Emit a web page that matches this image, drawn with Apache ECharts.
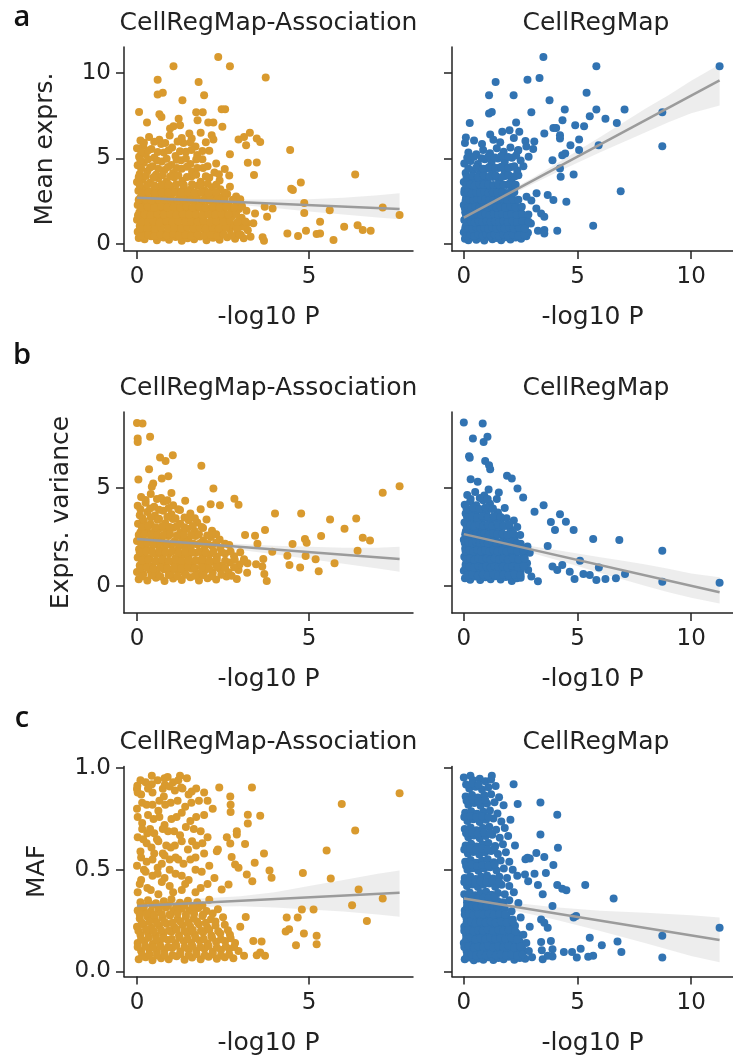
<!DOCTYPE html>
<html><head><meta charset="utf-8">
<script src="https://cdn.jsdelivr.net/npm/echarts@6/dist/echarts.min.js"></script>
<style>html,body{margin:0;padding:0;background:#fff;}#chart{width:733px;height:1057px;}</style>
</head><body><div id="chart"></div>
<script>
const panelTitles = ['CellRegMap-Association', 'CellRegMap'];
const rowLabels = ['Mean exprs.', 'Exprs. variance', 'MAF'];
const panelLetters = ['a', 'b', 'c'];
const xAxisName = '-log10 P';
const leftXTicks = [0, 5];
const rightXTicks = [0, 5, 10];
const meanTicks = [0, 5, 10];
const varTicks = [0, 5];
const mafTicks = [0, 0.5, 1.0];

// a-left: CellRegMap-Association vs mean expression
const assocMean = [
[2.36,10.93],[1.06,10.39],[2.70,10.39],[3.74,9.73],[0.60,9.61],[1.79,9.47],[0.75,8.85],[0.60,8.74],[1.95,8.70],[1.32,8.40],[0.06,7.72],[0.65,7.59],[0.71,7.43],[1.72,7.70],[1.91,7.70],[2.46,7.88],[2.56,7.88],[0.29,7.10],[1.21,7.32],[1.76,7.24],[2.07,7.10],[2.22,7.10],[2.48,6.85],[0.96,6.75],[1.06,6.89],[1.25,6.95],[1.52,6.46],[1.59,6.17],[2.17,6.36],[2.22,6.11],[2.95,6.11],[3.11,6.26],[3.28,6.50],[3.48,6.17],[3.58,5.97],[3.17,5.78],[4.45,5.49],[2.70,5.25],[3.22,4.75],[3.48,4.77],[3.40,4.03],[6.34,4.07],[4.48,3.23],[4.76,3.60],[4.53,3.15],[4.86,2.39],[3.71,2.18],[3.94,2.08],[3.78,1.60],[4.86,1.81],[5.60,1.98],[5.32,1.30],[7.14,2.14],[7.63,1.69],[6.02,1.01],[6.41,1.09],[6.56,0.82],[6.79,0.78],[4.37,0.62],[4.68,0.47],[4.91,0.78],[5.22,0.58],[5.32,0.62],[5.71,0.23],[3.65,0.39],[3.69,0.19],[3.43,1.79],[3.38,1.21],[3.19,1.21],[3.04,1.54],[3.02,0.53],
[0.05,0.35],[0.22,0.28],[0.41,0.45],[0.58,0.22],[0.77,0.38],[0.93,0.25],[1.12,0.41],[1.30,0.19],[1.47,0.33],[1.66,0.27],[1.83,0.44],[2.02,0.22],[2.21,0.36],[2.40,0.25],[2.62,0.40],[2.85,0.30],[3.10,0.34],[3.30,0.42],
[0.02,0.72],[0.15,0.60],[0.33,0.81],[0.50,0.66],[0.68,0.88],[0.85,0.62],[1.02,0.79],[1.20,0.65],[1.38,0.86],[1.55,0.58],[1.73,0.74],[1.92,0.90],[2.10,0.63],[2.28,0.81],[2.48,0.69],[2.70,0.85],[2.92,0.66],[3.22,0.80],
[0.08,1.05],[0.25,1.18],[0.44,0.98],[0.60,1.12],[0.79,1.25],[0.97,1.02],[1.15,1.16],[1.33,1.00],[1.51,1.21],[1.70,1.08],[1.88,1.26],[2.05,1.05],[2.25,1.19],[2.44,1.01],[2.63,1.22],[2.82,1.10],[3.05,1.02],
[0.00,1.42],[0.18,1.55],[0.36,1.38],[0.55,1.50],[0.72,1.62],[0.90,1.40],[1.08,1.57],[1.26,1.45],[1.44,1.66],[1.62,1.41],[1.80,1.53],[1.98,1.68],[2.17,1.44],[2.36,1.59],[2.55,1.47],[2.76,1.62],[2.98,1.40],
[0.07,1.85],[0.26,1.97],[0.45,1.80],[0.63,2.02],[0.81,1.88],[1.00,2.06],[1.18,1.83],[1.37,1.99],[1.55,1.86],[1.74,2.08],[1.93,1.92],[2.12,2.04],[2.31,1.84],[2.52,2.00],[2.74,1.90],[2.96,2.05],[3.18,1.95],
[0.02,2.28],[0.20,2.40],[0.39,2.22],[0.58,2.36],[0.76,2.50],[0.94,2.26],[1.13,2.43],[1.31,2.30],[1.50,2.52],[1.68,2.25],[1.87,2.39],[2.06,2.55],[2.27,2.31],[2.46,2.46],[2.66,2.28],[2.90,2.42],
[0.10,2.70],[0.28,2.82],[0.47,2.66],[0.66,2.88],[0.84,2.72],[1.03,2.95],[1.22,2.68],[1.41,2.84],[1.60,2.74],[1.79,2.96],[1.98,2.70],[2.18,2.86],[2.40,2.75],[2.62,2.92],[2.88,2.78],
[0.04,3.12],[0.22,3.25],[0.41,3.08],[0.60,3.30],[0.79,3.15],[0.98,3.36],[1.17,3.10],[1.36,3.28],[1.56,3.18],[1.76,3.40],[1.96,3.14],[2.18,3.32],[2.42,3.20],[2.70,3.35],
[0.00,3.62],[0.16,3.75],[0.38,3.58],[0.62,3.85],[0.86,3.66],[1.08,3.90],[1.32,3.70],[1.58,3.95],[1.85,3.64],[2.10,3.88],[2.40,3.72],[2.68,4.00],
[0.08,4.10],[0.30,4.25],[0.55,4.05],[0.80,4.32],[1.05,4.15],[1.30,4.40],[1.60,4.22],[1.92,4.45],[2.25,4.18],[2.55,4.38],
[0.02,4.60],[0.20,4.75],[0.45,4.55],[0.72,4.82],[1.00,4.62],[1.28,4.90],[1.55,4.68],[1.90,4.95],[2.30,4.70],
[0.06,5.10],[0.25,5.25],[0.50,5.05],[0.78,5.35],[1.12,5.15],[1.42,5.40],[1.75,5.20],[2.10,5.45],
[0.00,5.60],[0.18,5.75],[0.42,5.55],[0.70,5.85],[1.02,5.65],[1.35,5.90],[1.70,5.70],[2.00,5.95],
[0.10,6.05],[0.35,6.25],[0.65,6.10],[0.95,6.35],[1.30,6.20],[1.85,6.50]
];
const assocMeanFill = [
[0.12,0.48],[0.32,0.55],[0.50,0.47],[0.68,0.56],[0.86,0.50],[1.05,0.58],[1.22,0.49],[1.40,0.55],[1.58,0.46],[1.76,0.57],[1.95,0.51],[2.14,0.56],[2.33,0.47],[2.52,0.55],[2.74,0.50],[2.98,0.57],
[0.10,0.90],[0.30,0.93],[0.52,0.88],[0.70,0.97],[0.90,0.92],[1.08,0.95],[1.28,0.90],[1.46,0.98],[1.64,0.92],[1.82,0.96],[2.00,0.89],[2.18,0.97],[2.38,0.92],[2.58,0.98],[2.90,0.94],[3.15,1.00],
[0.14,1.30],[0.32,1.28],[0.48,1.33],[0.66,1.27],[0.85,1.34],[1.03,1.29],[1.20,1.33],[1.40,1.28],[1.58,1.32],[1.76,1.30],[1.94,1.34],[2.12,1.27],[2.30,1.33],[2.50,1.29],[2.70,1.34],[2.92,1.28],[3.15,1.32],
[0.03,1.68],[0.22,1.74],[0.40,1.70],[0.59,1.76],[0.78,1.71],[0.97,1.75],[1.15,1.70],[1.33,1.76],[1.52,1.72],[1.71,1.74],[1.90,1.69],[2.08,1.76],[2.27,1.71],[2.46,1.75],[2.66,1.72],[2.88,1.76],
[0.12,2.12],[0.31,2.18],[0.50,2.14],[0.70,2.20],[0.88,2.13],[1.07,2.18],[1.25,2.15],[1.44,2.20],[1.62,2.13],[1.81,2.18],[2.00,2.14],[2.20,2.20],[2.40,2.15],[2.60,2.18],[2.82,2.13],[3.05,2.20],
[0.05,2.58],[0.25,2.60],[0.42,2.55],[0.62,2.62],[0.80,2.58],[0.99,2.63],[1.18,2.56],[1.36,2.61],[1.55,2.58],[1.74,2.63],[1.93,2.57],[2.12,2.62],[2.33,2.58],[2.55,2.64],[2.78,2.58],[3.00,2.62],
[0.14,2.98],[0.33,3.02],[0.52,2.97],[0.72,3.03],[0.90,2.99],[1.10,3.04],[1.29,2.98],[1.48,3.03],[1.68,2.99],[1.88,3.04],[2.08,2.98],[2.30,3.02],[2.55,3.00],
[0.08,3.45],[0.30,3.48],[0.50,3.44],[0.72,3.50],[0.92,3.46],[1.14,3.50],[1.36,3.45],[1.60,3.50],[1.85,3.46],[2.05,3.52],[2.30,3.46],
[0.05,3.92],[0.26,3.98],[0.48,3.90],[0.74,4.02],[0.96,3.94],[1.20,4.00],[1.45,3.92],[1.72,4.05],[2.00,3.96],[2.38,4.08],
[0.12,4.42],[0.38,4.48],[0.62,4.40],[0.90,4.50],[1.16,4.44],[1.45,4.52],[1.75,4.44],[2.05,4.55],
[0.10,4.90],[0.32,4.95],[0.58,4.88],[0.86,4.98],[1.15,4.92],[1.42,5.00],[1.72,4.94],
[0.12,5.40],[0.32,5.46],[0.60,5.38],[0.92,5.48],[1.25,5.42],[1.58,5.50],[1.90,5.44],
[0.20,5.92],[0.50,5.98],[0.82,5.90],[1.18,6.00],[1.55,5.94]
];
const assocMeanFit = [[0, 2.70], [7.63, 2.04]];
const assocMeanBand = [[0,2.55,2.85],[1,2.52,2.72],[2,2.43,2.63],[3,2.28,2.60],[4,2.10,2.60],[5,1.90,2.62],[6,1.72,2.70],[7,1.55,2.85],[7.63,1.45,2.96]];

// a-right: CellRegMap vs mean expression
const crmMean = [
[3.50,10.93],[5.83,10.39],[11.25,10.39],[1.40,9.47],[2.80,9.61],[3.33,9.71],[1.11,8.70],[2.19,8.70],[5.40,8.85],[3.77,8.40],[1.11,7.63],[1.23,7.72],[0.26,7.08],[2.30,7.10],[2.97,7.70],[4.44,7.86],[5.54,7.47],[5.83,7.86],[6.23,7.32],[6.73,7.08],[7.07,7.86],[8.73,7.70],[8.73,5.72],[0.09,6.23],[1.16,6.40],[1.69,6.56],[2.01,6.65],[2.44,6.56],[3.54,6.46],[3.94,6.79],[4.06,6.79],[4.23,6.36],[4.23,6.17],[4.90,6.95],[5.29,6.89],[5.07,6.11],[5.93,5.78],[4.34,7.24],[2.71,6.03],[2.40,5.49],[4.69,5.78],[5.07,5.49],[4.33,5.19],[4.46,5.29],[3.90,4.90],[4.23,4.42],[4.26,3.93],[4.83,4.07],[6.90,3.09],[5.69,1.07],[4.51,2.47],[4.11,0.78],[3.69,2.86],[3.94,2.57],[3.20,2.96],[2.76,2.76],[2.97,2.55],[3.19,2.08],[3.40,1.79],[3.54,1.60],[3.26,0.78],[3.54,0.82],[3.54,0.62],
[0.05,0.30],[0.20,0.22],[0.38,0.40],[0.55,0.25],[0.72,0.36],[0.90,0.20],[1.08,0.42],[1.26,0.28],[1.45,0.35],[1.64,0.22],[1.84,0.40],[2.05,0.26],[2.28,0.38],[2.52,0.30],[2.75,0.45],
[0.00,0.68],[0.14,0.55],[0.30,0.78],[0.47,0.62],[0.64,0.84],[0.81,0.58],[0.98,0.75],[1.16,0.63],[1.34,0.86],[1.52,0.60],[1.70,0.77],[1.90,0.65],[2.10,0.83],[2.32,0.60],[2.55,0.76],[2.82,0.66],
[0.08,1.02],[0.24,1.15],[0.41,0.98],[0.58,1.20],[0.75,1.05],[0.92,1.22],[1.10,1.00],[1.28,1.14],[1.46,1.02],[1.64,1.25],[1.83,1.08],[2.02,1.20],[2.22,1.00],[2.45,1.16],[2.70,1.05],[2.95,1.20],
[0.02,1.40],[0.17,1.55],[0.34,1.38],[0.51,1.60],[0.68,1.44],[0.85,1.62],[1.03,1.40],[1.21,1.56],[1.39,1.45],[1.58,1.66],[1.77,1.42],[1.96,1.58],[2.16,1.46],[2.38,1.64],[2.62,1.50],
[0.06,1.85],[0.22,1.98],[0.39,1.80],[0.56,2.04],[0.73,1.88],[0.90,2.06],[1.08,1.84],[1.26,2.00],[1.45,1.90],[1.64,2.10],[1.84,1.86],[2.04,2.02],[2.26,1.92],[2.50,2.08],
[0.00,2.28],[0.15,2.42],[0.32,2.25],[0.50,2.46],[0.67,2.30],[0.85,2.52],[1.03,2.32],[1.22,2.48],[1.41,2.28],[1.60,2.55],[1.80,2.36],[2.02,2.50],[2.25,2.34],
[0.10,2.72],[0.27,2.86],[0.45,2.70],[0.63,2.92],[0.81,2.75],[1.00,2.96],[1.19,2.72],[1.38,2.90],[1.58,2.78],[1.80,2.98],[2.05,2.80],
[0.03,3.15],[0.20,3.30],[0.38,3.12],[0.58,3.35],[0.78,3.18],[0.98,3.40],[1.18,3.16],[1.40,3.36],[1.62,3.22],[1.88,3.45],[2.12,3.25],
[0.00,3.62],[0.25,3.78],[0.50,3.60],[0.75,3.85],[1.02,3.68],[1.28,3.92],[1.55,3.72],[1.82,3.98],[2.10,3.75],[2.40,4.02],
[0.08,4.15],[0.40,4.30],[0.70,4.12],[0.98,4.40],[1.25,4.20],[1.52,4.45],[1.80,4.25],[2.08,4.50],[2.35,4.30],[2.62,4.55],
[0.02,4.70],[0.30,4.85],[0.62,4.68],[0.92,4.95],[1.22,4.75],[1.50,5.00],[1.80,4.80],[2.12,5.05],[2.50,4.88],[2.85,5.10],
[0.20,5.35],[0.55,5.25],[0.85,5.50],[1.15,5.30],[1.45,5.60],[1.75,5.40],[2.05,5.65],[2.38,5.45],[2.75,5.70],[3.05,5.55],
[0.05,5.90],[0.45,6.05],[0.80,5.85],[1.30,6.10],[1.60,5.95],[2.20,6.20],[3.10,6.00]
];
const crmMeanFill = [
[0.12,0.48],[0.30,0.55],[0.47,0.47],[0.64,0.56],[0.82,0.50],[1.00,0.58],[1.17,0.49],[1.35,0.55],[1.54,0.46],[1.73,0.57],[1.94,0.51],[2.16,0.56],[2.40,0.48],[2.65,0.55],
[0.06,0.88],[0.22,0.93],[0.39,0.87],[0.56,0.96],[0.73,0.91],[0.90,0.95],[1.07,0.89],[1.25,0.97],[1.43,0.92],[1.61,0.96],[1.80,0.90],[2.00,0.97],[2.20,0.92],[2.42,0.96],[2.68,0.90],
[0.14,1.28],[0.31,1.32],[0.48,1.27],[0.66,1.33],[0.83,1.29],[1.01,1.34],[1.19,1.28],[1.37,1.32],[1.55,1.29],[1.74,1.34],[1.93,1.28],[2.13,1.33],[2.34,1.29],[2.58,1.34],[2.85,1.30],
[0.10,1.68],[0.27,1.74],[0.44,1.70],[0.61,1.76],[0.78,1.70],[0.96,1.75],[1.14,1.70],[1.32,1.76],[1.51,1.72],[1.70,1.75],[1.90,1.69],[2.10,1.76],[2.32,1.71],[2.56,1.75],[2.84,1.72],
[0.04,2.12],[0.18,2.18],[0.35,2.14],[0.52,2.20],[0.69,2.13],[0.87,2.18],[1.05,2.15],[1.24,2.20],[1.43,2.13],[1.62,2.18],[1.82,2.14],[2.04,2.20],[2.28,2.15],[2.55,2.18],
[0.08,2.55],[0.24,2.60],[0.41,2.57],[0.58,2.63],[0.76,2.58],[0.94,2.62],[1.12,2.56],[1.31,2.61],[1.50,2.58],[1.70,2.63],[1.92,2.57],[2.15,2.62],[2.40,2.58],
[0.02,3.00],[0.18,3.02],[0.35,2.97],[0.54,3.03],[0.72,2.99],[0.90,3.04],[1.09,2.98],[1.28,3.03],[1.48,2.99],[1.70,3.04],[1.94,2.98],[2.22,3.02],
[0.10,3.45],[0.30,3.48],[0.48,3.44],[0.68,3.50],[0.88,3.46],[1.08,3.50],[1.30,3.45],[1.52,3.50],[1.76,3.46],[2.00,3.52],[2.28,3.46],
[0.12,3.92],[0.38,3.98],[0.62,3.90],[0.88,4.02],[1.14,3.94],[1.40,4.00],[1.68,3.92],[1.96,4.05],[2.25,3.96],
[0.20,4.42],[0.55,4.48],[0.84,4.40],[1.12,4.50],[1.38,4.44],[1.65,4.52],[1.95,4.44],[2.22,4.55],
[0.15,5.05],[0.45,5.10],[0.78,5.02],[1.08,5.12],[1.36,5.06],[1.65,5.15],[1.95,5.08],[2.30,5.18]
];
const crmMeanFit = [[0, 1.54], [11.25, 9.57]];
const crmMeanBand = [[0,1.32,1.76],[1,2.07,2.43],[2,2.81,3.11],[3,3.49,3.85],[4,4.13,4.63],[5,4.75,5.45],[6,5.36,6.26],[7,5.95,7.09],[8,6.53,7.93],[9,7.12,8.70],[10,7.65,9.55],[11.25,8.10,10.50]];

// b-left: CellRegMap-Association vs expression variance
const assocVar = [
[0.00,8.33],[0.16,8.30],[0.02,7.53],[0.02,7.36],[0.38,7.62],[0.67,6.56],[0.83,6.39],[1.04,6.68],[0.91,5.61],[0.72,5.49],[1.87,6.14],[0.35,5.97],[0.04,5.44],[0.47,5.24],[0.43,5.07],[2.22,4.98],[7.14,4.76],[7.63,5.10],[2.83,4.46],[2.95,4.15],[2.41,4.13],[2.14,4.18],[4.01,3.71],[4.77,3.71],[5.61,3.40],[6.37,3.45],[3.72,2.86],[6.03,2.93],[5.35,2.55],[6.56,2.47],[6.77,2.33],[4.88,2.40],[4.93,2.21],[4.52,2.14],[6.41,1.80],[3.43,2.57],[3.50,2.16],[3.14,2.60],[3.93,1.75],[4.37,1.55],[4.90,1.53],[5.19,1.36],[5.74,1.16],[4.43,1.07],[4.74,0.95],[5.28,0.75],[3.67,1.38],[3.64,0.99],[3.70,0.61],[3.77,0.26],[3.46,1.11],[3.11,1.36],[3.21,1.16],
[0.05,0.35],[0.30,0.28],[0.55,0.42],[0.80,0.25],[1.05,0.38],[1.30,0.30],[1.55,0.45],[1.80,0.28],[2.05,0.40],[2.30,0.33],[2.60,0.48],[2.90,0.36],
[0.00,0.72],[0.18,0.60],[0.38,0.80],[0.58,0.65],[0.78,0.86],[0.98,0.62],[1.18,0.78],[1.38,0.66],[1.58,0.88],[1.78,0.64],[1.98,0.80],[2.20,0.68],[2.42,0.85],[2.66,0.70],[2.95,0.82],[3.20,0.68],
[0.08,1.05],[0.26,1.18],[0.45,1.00],[0.64,1.22],[0.83,1.06],[1.02,1.25],[1.21,1.02],[1.40,1.18],[1.60,1.05],[1.80,1.28],[2.00,1.08],[2.22,1.22],[2.45,1.04],[2.70,1.20],[2.98,1.10],
[0.02,1.45],[0.18,1.58],[0.36,1.40],[0.55,1.62],[0.74,1.46],[0.93,1.66],[1.12,1.42],[1.31,1.58],[1.50,1.48],[1.70,1.68],[1.90,1.44],[2.10,1.60],[2.32,1.50],[2.56,1.66],[2.82,1.52],
[0.06,1.88],[0.24,2.02],[0.42,1.85],[0.61,2.08],[0.80,1.90],[0.99,2.10],[1.18,1.86],[1.37,2.04],[1.56,1.92],[1.76,2.12],[1.96,1.88],[2.18,2.06],[2.42,1.94],[2.68,2.10],
[0.00,2.30],[0.16,2.45],[0.34,2.28],[0.53,2.50],[0.72,2.34],[0.91,2.55],[1.10,2.30],[1.30,2.48],[1.50,2.36],[1.70,2.56],[1.92,2.32],[2.15,2.50],[2.40,2.38],
[0.10,2.75],[0.28,2.90],[0.47,2.72],[0.66,2.95],[0.86,2.78],[1.06,2.98],[1.26,2.74],[1.46,2.92],[1.68,2.80],[1.92,2.96],[2.18,2.82],
[0.03,3.18],[0.20,3.32],[0.40,3.15],[0.60,3.38],[0.82,3.20],[1.04,3.42],[1.26,3.18],[1.50,3.36],[1.75,3.24],[2.02,3.40],
[0.08,3.62],[0.30,3.78],[0.52,3.60],[0.76,3.85],[1.00,3.66],[1.25,3.88],[1.55,3.70],[1.85,3.92],
[0.02,4.10],[0.25,4.25],[0.50,4.05],[0.78,4.32],[1.05,4.12],[1.40,4.35],
[0.12,4.55],[0.40,4.70],[0.70,4.50],[1.00,4.75]
];
const assocVarFill = [
[0.15,0.50],[0.42,0.55],[0.68,0.48],[0.92,0.56],[1.18,0.50],[1.42,0.58],[1.68,0.52],[1.92,0.56],[2.18,0.50],[2.45,0.58],[2.75,0.52],
[0.10,0.90],[0.28,0.94],[0.48,0.88],[0.68,0.96],[0.88,0.92],[1.08,0.95],[1.28,0.89],[1.48,0.97],[1.68,0.92],[1.88,0.96],[2.10,0.90],[2.32,0.97],[2.56,0.92],[2.82,0.96],
[0.14,1.30],[0.34,1.33],[0.54,1.28],[0.73,1.34],[0.92,1.29],[1.12,1.33],[1.30,1.28],[1.50,1.32],[1.70,1.30],[1.90,1.34],[2.10,1.28],[2.32,1.33],[2.56,1.29],[2.84,1.34],[3.10,1.28],
[0.08,1.72],[0.27,1.76],[0.46,1.70],[0.64,1.77],[0.83,1.72],[1.02,1.76],[1.21,1.70],[1.40,1.77],[1.60,1.72],[1.80,1.76],[2.00,1.71],[2.22,1.77],[2.46,1.72],[2.72,1.76],[3.00,1.72],
[0.12,2.16],[0.30,2.20],[0.48,2.14],[0.67,2.21],[0.86,2.16],[1.05,2.20],[1.24,2.15],[1.44,2.21],[1.64,2.16],[1.85,2.20],[2.06,2.15],[2.30,2.21],[2.56,2.16],
[0.05,2.60],[0.22,2.64],[0.40,2.58],[0.58,2.65],[0.77,2.60],[0.96,2.64],[1.16,2.58],[1.36,2.65],[1.57,2.60],[1.80,2.64],[2.04,2.58],[2.30,2.64],
[0.14,3.02],[0.34,3.06],[0.54,3.00],[0.74,3.07],[0.95,3.02],[1.16,3.06],[1.38,3.00],[1.62,3.06],[1.88,3.02],
[0.16,3.46],[0.40,3.50],[0.64,3.44],[0.88,3.52],[1.12,3.46],[1.38,3.50],[1.68,3.46],
[0.10,3.92],[0.38,3.96],[0.64,3.90],[0.92,3.98],[1.20,3.92],
[0.25,4.40],[0.58,4.45],[0.88,4.38]
];
const assocVarFit = [[0, 2.40], [7.63, 1.38]];
const assocVarBand = [[0,2.25,2.55],[1,2.17,2.37],[2,2.02,2.24],[3,1.84,2.14],[4,1.62,2.06],[5,1.38,2.00],[6,1.14,1.96],[7,0.90,1.95],[7.63,0.73,2.00]];

// b-right: CellRegMap vs expression variance
const crmVar = [
[0.00,8.35],[0.83,8.30],[0.40,7.53],[0.87,7.36],[1.04,7.62],[0.23,6.63],[0.26,6.55],[0.94,6.39],[1.11,6.17],[1.16,5.97],[1.90,5.63],[2.11,5.49],[0.30,5.46],[0.61,5.32],[1.09,4.93],[1.54,4.78],[2.36,4.98],[2.61,4.52],[3.51,4.13],[3.11,3.79],[4.23,3.67],[4.49,3.28],[3.83,3.27],[4.01,2.86],[4.83,2.86],[5.69,2.40],[6.84,2.35],[8.73,1.80],[11.25,0.17],[8.73,0.22],[5.11,1.29],[5.94,0.95],[7.09,0.61],[6.69,0.39],[6.23,0.36],[5.83,0.31],[5.54,0.56],[5.26,0.61],[4.87,0.36],[4.66,0.73],[4.33,1.07],[4.11,0.82],[3.90,0.99],[3.69,2.04],[3.26,0.24],[2.83,0.82],[2.97,0.48],[2.11,0.26],[2.33,0.39],
[0.05,0.40],[0.28,0.32],[0.50,0.48],[0.72,0.30],[0.95,0.45],[1.18,0.35],[1.40,0.50],[1.62,0.33],[1.85,0.46],[2.50,0.42],
[0.00,0.78],[0.18,0.66],[0.36,0.85],[0.54,0.70],[0.72,0.90],[0.90,0.68],[1.08,0.84],[1.26,0.72],[1.44,0.92],[1.62,0.70],[1.82,0.86],[2.02,0.74],[2.25,0.90],[2.50,0.78],
[0.08,1.10],[0.24,1.24],[0.42,1.06],[0.60,1.28],[0.78,1.12],[0.96,1.30],[1.14,1.08],[1.32,1.24],[1.50,1.12],[1.68,1.32],[1.87,1.10],[2.06,1.26],[2.28,1.14],[2.52,1.30],[2.78,1.16],
[0.02,1.50],[0.16,1.64],[0.33,1.46],[0.50,1.68],[0.67,1.52],[0.84,1.72],[1.02,1.48],[1.20,1.64],[1.38,1.54],[1.56,1.74],[1.75,1.50],[1.94,1.66],[2.14,1.56],[2.36,1.72],[2.62,1.58],[2.90,1.70],
[0.06,1.92],[0.22,2.06],[0.39,1.90],[0.56,2.12],[0.73,1.96],[0.90,2.16],[1.08,1.92],[1.26,2.08],[1.44,1.98],[1.63,2.18],[1.83,1.94],[2.04,2.10],[2.26,2.00],[2.50,2.16],[2.80,2.02],
[0.00,2.36],[0.14,2.50],[0.31,2.34],[0.48,2.56],[0.65,2.40],[0.82,2.60],[1.00,2.36],[1.18,2.52],[1.37,2.42],[1.56,2.62],[1.76,2.38],[1.98,2.56],[2.22,2.44],[2.48,2.60],
[0.09,2.80],[0.26,2.94],[0.44,2.78],[0.62,3.00],[0.80,2.84],[0.99,3.04],[1.18,2.80],[1.38,2.96],[1.58,2.86],[1.80,3.06],[2.05,2.90],[2.35,3.02],
[0.03,3.24],[0.20,3.38],[0.38,3.22],[0.57,3.44],[0.76,3.28],[0.96,3.48],[1.16,3.26],[1.38,3.42],[1.62,3.30],[1.88,3.46],[2.20,3.35],
[0.08,3.70],[0.30,3.84],[0.52,3.66],[0.75,3.90],[0.98,3.72],[1.24,3.94],[1.50,3.76],[1.80,3.98],
[0.04,4.15],[0.28,4.30],[0.55,4.12],[0.85,4.38],[1.15,4.20],[1.45,4.45],
[0.15,4.65],[0.50,4.80],[0.90,4.62]
];
const crmVarFill = [
[0.15,0.55],[0.38,0.60],[0.62,0.52],[0.84,0.58],[1.06,0.54],[1.30,0.60],[1.52,0.53],[1.74,0.58],[1.98,0.55],[2.22,0.60],[2.50,0.56],
[0.08,0.96],[0.26,1.00],[0.45,0.94],[0.63,1.02],[0.81,0.97],[0.99,1.01],[1.17,0.95],[1.35,1.02],[1.53,0.97],[1.72,1.01],[1.92,0.95],[2.14,1.02],[2.38,0.97],[2.64,1.01],
[0.10,1.36],[0.28,1.40],[0.46,1.34],[0.64,1.41],[0.82,1.36],[1.00,1.40],[1.18,1.34],[1.36,1.41],[1.55,1.36],[1.74,1.40],[1.94,1.34],[2.16,1.41],[2.40,1.36],[2.68,1.40],
[0.08,1.78],[0.25,1.82],[0.42,1.76],[0.59,1.84],[0.76,1.78],[0.94,1.82],[1.12,1.76],[1.30,1.84],[1.49,1.78],[1.68,1.82],[1.88,1.76],[2.10,1.84],[2.35,1.78],[2.62,1.82],
[0.04,2.20],[0.20,2.24],[0.37,2.18],[0.54,2.26],[0.71,2.20],[0.88,2.24],[1.06,2.18],[1.24,2.26],[1.43,2.20],[1.63,2.24],[1.84,2.18],[2.08,2.26],[2.34,2.20],
[0.06,2.64],[0.22,2.68],[0.40,2.62],[0.57,2.70],[0.74,2.64],[0.92,2.68],[1.10,2.62],[1.29,2.70],[1.48,2.64],[1.70,2.68],[1.92,2.62],[2.18,2.68],
[0.12,3.08],[0.30,3.12],[0.48,3.06],[0.67,3.14],[0.86,3.08],[1.06,3.12],[1.27,3.06],[1.50,3.12],[1.74,3.08],[2.00,3.14],
[0.14,3.52],[0.36,3.56],[0.58,3.50],[0.82,3.58],[1.06,3.52],[1.32,3.56],[1.62,3.52],
[0.12,3.96],[0.40,4.00],[0.68,3.94],[0.96,4.02],[1.28,3.96],
[0.30,4.45],[0.70,4.50],[1.05,4.44]
];
const crmVarFit = [[0, 2.65], [11.25, -0.32]];
const crmVarBand = [[0,2.47,2.83],[1,2.27,2.51],[2,2.00,2.24],[3,1.69,2.03],[4,1.35,1.85],[5,1.02,1.66],[6,0.67,1.47],[7,0.33,1.29],[8,0.00,1.10],[9,-0.32,0.88],[10,-0.60,0.64],[11.25,-0.90,0.45]];

// c-left: CellRegMap-Association vs MAF
const assocMaf = [
[0.43,0.962],[0.89,0.956],[1.25,0.962],[0.43,0.921],[0.01,0.913],[0.00,0.897],[0.75,0.899],[0.81,0.918],[1.28,0.905],[1.59,0.885],[2.39,0.905],[3.34,0.905],[7.63,0.877],[5.95,0.824],[6.34,0.693],[5.51,0.595],[4.82,0.484],[5.63,0.457],[6.44,0.403],[7.14,0.359],[6.25,0.325],[6.68,0.248],[4.79,0.305],[5.13,0.305],[4.35,0.265],[4.67,0.265],[4.32,0.196],[4.42,0.207],[4.85,0.186],[5.22,0.175],[5.22,0.134],[4.62,0.129],[3.58,0.766],[3.22,0.771],[3.22,0.727],[3.69,0.580],[3.42,0.534],[3.91,0.461],[3.85,0.497],[3.35,0.444],[3.19,0.477],[3.16,0.268],[3.38,0.150],[3.62,0.147],[3.48,0.080],[3.72,0.077],[3.58,0.093],[3.11,0.077],[2.71,0.861],[2.72,0.820],[2.72,0.784],[2.90,0.689],[2.90,0.673],[3.14,0.627],[2.61,0.660],[2.71,0.629],[2.75,0.563],[2.85,0.526],[2.95,0.510],[2.46,0.403],[2.66,0.428],[2.32,0.591],
[0.05,0.060],[0.25,0.070],[0.45,0.055],[0.70,0.065],[0.92,0.060],[1.15,0.075],[1.38,0.058],[1.60,0.068],[1.85,0.060],[2.08,0.072],[2.32,0.062],[2.55,0.070],[2.80,0.065],
[0.12,0.100],[0.35,0.110],[0.58,0.095],[0.80,0.105],[1.02,0.115],[1.26,0.098],[1.50,0.108],[1.72,0.100],[1.96,0.112],[2.20,0.097],[2.44,0.105],[2.68,0.110],[2.95,0.100],
[0.02,0.140],[0.22,0.150],[0.46,0.135],[0.66,0.145],[0.90,0.155],[1.12,0.138],[1.36,0.148],[1.58,0.140],[1.82,0.152],[2.05,0.137],[2.30,0.146],[2.56,0.150],[2.85,0.140],
[0.10,0.180],[0.32,0.190],[0.55,0.175],[0.76,0.185],[1.00,0.195],[1.22,0.178],[1.46,0.188],[1.68,0.180],[1.92,0.192],[2.16,0.177],[2.42,0.186],[2.70,0.180],
[0.00,0.220],[0.20,0.230],[0.42,0.215],[0.64,0.225],[0.86,0.235],[1.08,0.218],[1.32,0.228],[1.55,0.220],[1.80,0.232],[2.04,0.217],[2.28,0.226],[2.55,0.230],[3.00,0.220],
[0.08,0.260],[0.30,0.270],[0.52,0.255],[0.74,0.265],[0.96,0.275],[1.18,0.258],[1.42,0.268],[1.65,0.260],[1.90,0.272],[2.15,0.257],[2.50,0.266],
[0.02,0.300],[0.18,0.310],[0.40,0.295],[0.62,0.305],[0.84,0.315],[1.06,0.298],[1.30,0.308],[1.52,0.300],[1.78,0.312],[2.02,0.297],[2.35,0.306],
[0.10,0.340],[0.32,0.350],[0.55,0.335],[0.78,0.345],[1.00,0.355],[1.25,0.338],[1.48,0.348],[1.75,0.340],[2.10,0.352],
[0.02,0.390],[0.30,0.410],[0.62,0.380],[0.95,0.420],[1.30,0.400],[1.70,0.390],[2.05,0.430],
[0.12,0.450],[0.45,0.470],[0.80,0.460],[1.12,0.480],[1.50,0.450],[1.88,0.490],[2.25,0.460],
[0.00,0.520],[0.28,0.540],[0.60,0.510],[0.95,0.550],[1.35,0.530],[1.70,0.560],[2.10,0.520],
[0.10,0.590],[0.42,0.610],[0.75,0.580],[1.10,0.620],[1.48,0.600],[1.90,0.630],[2.35,0.600],
[0.02,0.660],[0.30,0.680],[0.58,0.650],[0.90,0.690],[1.25,0.670],[1.65,0.700],[2.05,0.660],
[0.15,0.730],[0.48,0.750],[0.80,0.720],[1.15,0.760],[1.55,0.740],[1.95,0.770],
[0.00,0.800],[0.28,0.820],[0.62,0.790],[0.98,0.830],[1.40,0.810],[1.80,0.840],[2.20,0.800],
[0.12,0.870],[0.45,0.880],[0.78,0.860],[1.10,0.890],[1.50,0.870],[1.95,0.880],
[0.25,0.930],[0.60,0.940],[1.05,0.930],[1.45,0.950],
[0.20,0.500],[0.50,0.580],[0.72,0.530],[0.38,0.700],[0.65,0.840],[0.85,0.620],[1.00,0.750],[0.18,0.650],[1.20,0.550],[1.60,0.640]
];
const assocMafFill = [
[0.15,0.080],[0.36,0.085],[0.58,0.078],[0.80,0.083],[1.03,0.080],[1.26,0.086],[1.50,0.079],[1.73,0.084],[1.97,0.080],[2.20,0.085],[2.44,0.078],[2.68,0.083],
[0.02,0.120],[0.24,0.125],[0.47,0.118],[0.69,0.123],[0.91,0.120],[1.14,0.126],[1.38,0.119],[1.61,0.124],[1.84,0.120],[2.08,0.125],[2.32,0.118],[2.58,0.123],[2.82,0.120],
[0.12,0.160],[0.34,0.165],[0.56,0.158],[0.78,0.163],[1.01,0.160],[1.24,0.166],[1.47,0.159],[1.70,0.164],[1.94,0.160],[2.18,0.165],[2.44,0.158],[2.72,0.163],
[0.04,0.200],[0.26,0.205],[0.48,0.198],[0.70,0.203],[0.92,0.200],[1.15,0.206],[1.38,0.199],[1.62,0.204],[1.86,0.200],[2.10,0.205],[2.36,0.198],[2.64,0.203],
[0.14,0.240],[0.36,0.245],[0.58,0.238],[0.80,0.243],[1.03,0.240],[1.26,0.246],[1.50,0.239],[1.75,0.244],[2.00,0.240],[2.28,0.245],
[0.08,0.280],[0.28,0.285],[0.50,0.278],[0.72,0.283],[0.95,0.280],[1.18,0.286],[1.42,0.279],[1.66,0.284],[1.92,0.280],[2.20,0.285],
[0.20,0.320],[0.44,0.325],[0.66,0.318],[0.90,0.323],[1.14,0.320],[1.38,0.326],[1.62,0.319],[1.90,0.324],
[0.08,0.430],[0.40,0.400],[0.72,0.440],[1.05,0.390],[1.40,0.430],[1.85,0.410],
[0.25,0.490],[0.60,0.480],[0.95,0.500],[1.30,0.470],[1.70,0.500],
[0.12,0.560],[0.45,0.550],[0.80,0.570],[1.12,0.560],[1.55,0.550],[1.95,0.580],
[0.28,0.630],[0.62,0.640],[0.98,0.610],[1.30,0.640],[1.72,0.620],
[0.15,0.700],[0.50,0.680],[0.75,0.700],[1.08,0.690],[1.42,0.710],[1.85,0.690],
[0.02,0.760],[0.32,0.770],[0.65,0.760],[1.30,0.780],[1.72,0.760],
[0.15,0.830],[0.45,0.820],[0.82,0.820],[1.18,0.840],[1.58,0.830],[2.05,0.840],
[0.02,0.880],[0.32,0.900],[0.95,0.910],[1.32,0.900],[1.72,0.900],
[0.10,0.940],[0.80,0.950],[1.20,0.940]
];
const assocMafFit = [[0, 0.322], [7.63, 0.387]];
const assocMafBand = [[0,0.297,0.348],[1,0.310,0.352],[2,0.318,0.360],[3,0.320,0.370],[4,0.314,0.390],[5,0.305,0.420],[6,0.295,0.450],[7,0.280,0.480],[7.63,0.269,0.497]];

// c-right: CellRegMap vs MAF
const crmMaf = [
[0.00,0.954],[0.29,0.962],[1.23,0.962],[2.19,0.921],[3.37,0.831],[2.37,0.823],[4.11,0.771],[3.37,0.673],[4.14,0.608],[3.19,0.582],[3.54,0.563],[2.80,0.559],[2.90,0.555],[3.94,0.523],[3.61,0.484],[4.11,0.425],[5.34,0.425],[4.33,0.407],[4.51,0.399],[6.59,0.359],[11.25,0.215],[8.73,0.175],[8.73,0.068],[6.76,0.147],[6.93,0.096],[6.07,0.129],[5.54,0.166],[5.69,0.077],[5.47,0.072],[4.97,0.069],[5.14,0.111],[4.76,0.096],[4.40,0.096],[4.83,0.265],[4.94,0.273],[3.90,0.322],[3.83,0.150],[3.90,0.109],[3.40,0.256],[3.54,0.240],[3.69,0.215],[3.40,0.145],[3.43,0.104],[3.47,0.060],[3.69,0.077],[3.90,0.073],[3.26,0.425],[3.47,0.379],[2.69,0.477],[3.11,0.481],[2.83,0.444],[2.71,0.552],
[0.04,0.060],[0.24,0.068],[0.44,0.055],[0.64,0.064],[0.86,0.058],[1.08,0.070],[1.30,0.056],[1.52,0.066],[1.75,0.060],[1.98,0.072],[2.22,0.058],[2.46,0.066],[2.70,0.062],[3.00,0.070],
[0.12,0.100],[0.34,0.108],[0.54,0.095],[0.76,0.104],[0.97,0.112],[1.18,0.097],[1.40,0.106],[1.62,0.100],[1.86,0.110],[2.10,0.096],[2.34,0.104],[2.58,0.109],[2.86,0.100],
[0.00,0.140],[0.20,0.148],[0.42,0.135],[0.62,0.144],[0.84,0.152],[1.05,0.137],[1.27,0.146],[1.50,0.140],[1.72,0.150],[1.95,0.136],[2.20,0.145],[2.45,0.149],[2.75,0.140],
[0.10,0.180],[0.30,0.188],[0.52,0.175],[0.72,0.184],[0.94,0.192],[1.15,0.177],[1.38,0.186],[1.60,0.180],[1.84,0.190],[2.08,0.176],[2.35,0.185],[2.62,0.180],
[0.02,0.220],[0.22,0.228],[0.42,0.215],[0.64,0.224],[0.85,0.232],[1.06,0.217],[1.28,0.226],[1.50,0.220],[1.74,0.230],[1.98,0.216],[2.25,0.225],[2.90,0.220],
[0.12,0.260],[0.32,0.268],[0.54,0.255],[0.75,0.264],[0.96,0.272],[1.18,0.257],[1.40,0.266],[1.63,0.260],[1.88,0.270],[2.15,0.256],[2.50,0.265],
[0.04,0.300],[0.22,0.308],[0.44,0.295],[0.66,0.304],[0.88,0.312],[1.10,0.297],[1.32,0.306],[1.56,0.300],[1.80,0.310],[2.10,0.296],
[0.14,0.340],[0.36,0.348],[0.57,0.335],[0.80,0.344],[1.02,0.352],[1.25,0.337],[1.48,0.346],[1.72,0.340],[2.00,0.350],[2.40,0.336],
[0.02,0.380],[0.26,0.388],[0.50,0.375],[0.74,0.386],[0.98,0.392],[1.22,0.377],[1.50,0.386],[1.80,0.380],[2.20,0.390],
[0.14,0.420],[0.38,0.428],[0.62,0.415],[0.86,0.426],[1.12,0.432],[1.38,0.417],[1.66,0.426],[2.00,0.420],
[0.04,0.460],[0.28,0.468],[0.52,0.455],[0.76,0.466],[1.02,0.472],[1.28,0.457],[1.56,0.466],[1.90,0.460],[2.35,0.470],
[0.16,0.500],[0.40,0.508],[0.64,0.495],[0.90,0.506],[1.16,0.512],[1.44,0.497],[1.76,0.506],[2.15,0.500],
[0.06,0.540],[0.30,0.548],[0.54,0.535],[0.80,0.546],[1.05,0.552],[1.32,0.537],[1.62,0.546],[2.00,0.540],
[0.18,0.580],[0.42,0.588],[0.68,0.575],[0.94,0.586],[1.20,0.592],[1.50,0.577],[1.85,0.586],
[0.08,0.620],[0.32,0.628],[0.56,0.615],[0.82,0.626],[1.08,0.632],[1.38,0.617],[1.72,0.626],[2.25,0.620],
[0.20,0.660],[0.44,0.668],[0.70,0.655],[0.96,0.666],[1.25,0.672],[1.58,0.657],[1.95,0.666],
[0.04,0.700],[0.30,0.708],[0.56,0.695],[0.84,0.706],[1.12,0.712],[1.42,0.697],[1.80,0.706],
[0.16,0.740],[0.42,0.748],[0.70,0.735],[0.98,0.746],[1.30,0.752],[1.65,0.737],[2.05,0.746],
[0.06,0.780],[0.32,0.788],[0.58,0.775],[0.86,0.786],[1.15,0.792],[1.48,0.777],
[0.20,0.820],[0.46,0.828],[0.74,0.815],[1.02,0.826],[1.35,0.832],[1.75,0.817],
[0.08,0.860],[0.36,0.868],[0.62,0.855],[0.90,0.866],[1.20,0.872],[1.55,0.857],
[0.24,0.900],[0.52,0.908],[0.80,0.895],[1.08,0.906],[1.40,0.912],
[0.40,0.940],[0.70,0.948],[0.95,0.935],[1.20,0.944]
];
const crmMafFill = [
[0.14,0.080],[0.34,0.085],[0.54,0.078],[0.75,0.083],[0.97,0.080],[1.19,0.086],[1.41,0.079],[1.63,0.084],[1.86,0.080],[2.10,0.085],[2.34,0.078],[2.58,0.083],
[0.02,0.120],[0.22,0.125],[0.44,0.118],[0.65,0.123],[0.86,0.120],[1.07,0.126],[1.29,0.119],[1.51,0.124],[1.74,0.120],[1.97,0.125],[2.22,0.118],[2.48,0.123],
[0.10,0.160],[0.31,0.165],[0.52,0.158],[0.73,0.163],[0.95,0.160],[1.16,0.166],[1.38,0.159],[1.61,0.164],[1.84,0.160],[2.08,0.165],[2.34,0.158],
[0.02,0.200],[0.21,0.205],[0.42,0.198],[0.63,0.203],[0.84,0.200],[1.06,0.206],[1.28,0.199],[1.51,0.204],[1.74,0.200],[1.98,0.205],[2.26,0.198],
[0.12,0.240],[0.32,0.245],[0.53,0.238],[0.74,0.243],[0.96,0.240],[1.18,0.246],[1.40,0.239],[1.63,0.244],[1.88,0.240],[2.15,0.245],
[0.04,0.280],[0.22,0.285],[0.43,0.278],[0.65,0.283],[0.87,0.280],[1.09,0.286],[1.32,0.279],[1.56,0.284],[1.82,0.280],
[0.14,0.320],[0.36,0.325],[0.57,0.318],[0.79,0.323],[1.01,0.320],[1.24,0.326],[1.48,0.319],[1.74,0.324],
[0.14,0.360],[0.38,0.365],[0.62,0.358],[0.86,0.362],[1.10,0.360],[1.36,0.366],
[0.02,0.440],[0.26,0.445],[0.50,0.438],[0.74,0.443],[1.00,0.440],[1.26,0.446],[1.55,0.440],
[0.10,0.520],[0.34,0.525],[0.58,0.518],[0.82,0.523],[1.08,0.520],[1.36,0.526],
[0.02,0.600],[0.28,0.605],[0.54,0.598],[0.80,0.603],[1.06,0.600],[1.35,0.606],
[0.10,0.680],[0.36,0.685],[0.62,0.678],[0.88,0.683],[1.15,0.680],
[0.02,0.760],[0.28,0.765],[0.55,0.758],[0.80,0.763],[1.08,0.760],
[0.12,0.840],[0.40,0.845],[0.66,0.838],[0.94,0.843],
[0.10,0.920],[0.38,0.925],[0.65,0.918]
];
const crmMafFit = [[0, 0.359], [11.25, 0.155]];
const crmMafBand = [[0,0.331,0.387],[2,0.304,0.340],[4,0.256,0.316],[6,0.199,0.299],[8,0.138,0.288],[10,0.076,0.276],[11.25,0.045,0.265]];

const orange = '#D99A2E';
const blue = '#3173B2';
const FONT = 'DejaVu Sans';
const ink = '#222222';

const chart = echarts.init(document.getElementById('chart'), null, {renderer: 'canvas'});

const cols = [{left: 124, width: 289, min: -0.378, max: 8.02, ticks: leftXTicks},
              {left: 452, width: 288, min: -0.52, max: 11.84, ticks: rightXTicks}];
const rows = [{top: 47, height: 204, min: -0.41, max: 11.52, ticks: meanTicks, gap: 66, fmt: v => String(v)},
              {top: 412, height: 201, min: -1.38, max: 8.89, ticks: varTicks, gap: 50, fmt: v => String(v)},
              {top: 766.5, height: 210, min: -0.025, max: 1.008, ticks: mafTicks, gap: 74, fmt: v => v.toFixed(1)}];

const panels = [
  [assocMean.concat(assocMeanFill), orange, assocMeanFit, assocMeanBand],
  [crmMean.concat(crmMeanFill), blue, crmMeanFit, crmMeanBand],
  [assocVar.concat(assocVarFill), orange, assocVarFit, assocVarBand],
  [crmVar.concat(crmVarFill), blue, crmVarFit, crmVarBand],
  [assocMaf.concat(assocMafFill), orange, assocMafFit, assocMafBand],
  [crmMaf.concat(crmMafFill), blue, crmMafFit, crmMafBand]
];

const grids = [], xAxes = [], yAxes = [], series = [], graphics = [];
const axisLine = {show: true, onZero: false, lineStyle: {color: ink, width: 1.5}};
const axisTickBase = {show: true, length: 8, lineStyle: {color: ink, width: 1.5}};

rows.forEach((r, ri) => {
  cols.forEach((c, ci) => {
    const idx = ri * 2 + ci;
    grids.push({left: c.left, top: r.top, width: c.width, height: r.height, containLabel: false});
    xAxes.push({
      type: 'value', gridIndex: idx, min: c.min, max: c.max,
      axisLine, splitLine: {show: false},
      axisTick: Object.assign({customValues: c.ticks}, axisTickBase),
      axisLabel: {customValues: c.ticks, margin: 15, color: ink, fontSize: 23, fontFamily: FONT},
      name: xAxisName, nameLocation: 'middle', nameGap: 54,
      nameTextStyle: {color: ink, fontSize: 25, fontFamily: FONT}
    });
    yAxes.push({
      type: 'value', gridIndex: idx, min: r.min, max: r.max,
      axisLine, splitLine: {show: false},
      axisTick: Object.assign({customValues: r.ticks}, axisTickBase),
      axisLabel: {customValues: r.ticks, margin: 13, color: ink, fontSize: 23, fontFamily: FONT,
                  show: ci === 0, formatter: r.fmt},
      name: ci === 0 ? rowLabels[ri] : '', nameLocation: 'middle', nameGap: r.gap,
      nameTextStyle: {color: ink, fontSize: 25, fontFamily: FONT}
    });
    const [pts, color, fit, band] = panels[idx];
    series.push({type: 'scatter', xAxisIndex: idx, yAxisIndex: idx, data: pts, symbolSize: 8,
                 itemStyle: {color: color, opacity: 1}, silent: true, animation: false});
    series.push({type: 'custom', xAxisIndex: idx, yAxisIndex: idx, data: [[band[0][0], band[0][1]]],
                 silent: true, animation: false,
                 renderItem: (params, api) => {
                   const upper = band.map(b => api.coord([b[0], b[2]]));
                   const lower = band.slice().reverse().map(b => api.coord([b[0], b[1]]));
                   return {type: 'polygon', shape: {points: upper.concat(lower)},
                           style: {fill: 'rgba(140,140,140,0.16)'}};
                 }});
    series.push({type: 'line', xAxisIndex: idx, yAxisIndex: idx, data: fit, showSymbol: false,
                 lineStyle: {color: '#9b9b9b', width: 2.5}, silent: true, animation: false});
    graphics.push({type: 'text', x: c.left + c.width / 2, y: r.top - 24,
                   style: {text: panelTitles[ci], fill: ink, font: '25px "DejaVu Sans"',
                           textAlign: 'center', textVerticalAlign: 'middle'}});
  });
  graphics.push({type: 'text', x: 22, y: [18, 356, 719][ri],
                 style: {text: panelLetters[ri], fill: '#111', font: '600 29px "Open Sans"',
                         textAlign: 'center', textVerticalAlign: 'middle'}});
});

chart.setOption({
  animation: false,
  backgroundColor: '#ffffff',
  grid: grids, xAxis: xAxes, yAxis: yAxes, series: series, graphic: graphics
});
</script>
</body></html>
